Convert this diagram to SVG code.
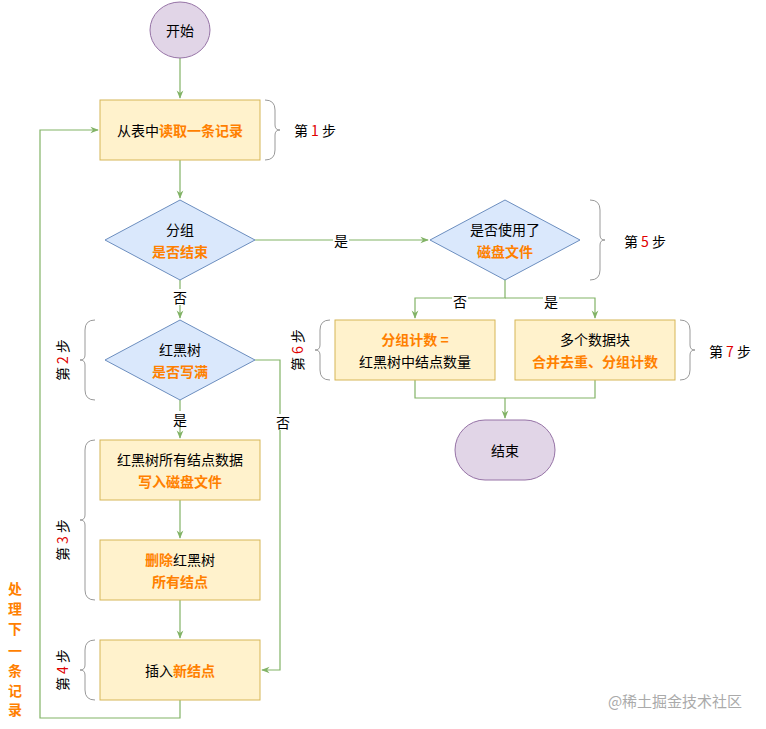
<svg xmlns="http://www.w3.org/2000/svg" width="766" height="729" viewBox="0 0 766 729">
<defs>
<marker id="a" viewBox="0 0 10 10" refX="9" refY="5" markerWidth="7" markerHeight="7" orient="auto"><path d="M0,1 L10,5 L0,9 L3,5 Z" fill="#82b366"/></marker>
<style>
text{font-family:"Noto Sans CJK SC","Noto Sans",sans-serif;font-size:14px;fill:#000;text-anchor:middle;dominant-baseline:central}
.o{fill:#ff8000;font-weight:bold}
.r{fill:#e00000}
.box{fill:#fff2cc;stroke:#d6b656}
.dia{fill:#dae8fc;stroke:#6c8ebf}
.term{fill:#e1d5e7;stroke:#9673a6}
.c{fill:none;stroke:#82b366;stroke-width:1.2}
.br{fill:none;stroke:#999;stroke-width:1}
</style>
</defs>
<rect width="766" height="729" fill="#fff"/>
<g id="connectors">
<path class="c" d="M180,58 V98" marker-end="url(#a)"/>
<path class="c" d="M180,160 V198" marker-end="url(#a)"/>
<path class="c" d="M255,240 H428" marker-end="url(#a)"/>
<path class="c" d="M180,280 V318" marker-end="url(#a)"/>
<path class="c" d="M505,280 V298 H415 V318" marker-end="url(#a)"/>
<path class="c" d="M505,298 H595 V318" marker-end="url(#a)"/>
<path class="c" d="M415,380 V398 H595 V380"/>
<path class="c" d="M505,398 V418" marker-end="url(#a)"/>
<path class="c" d="M180,400 V438" marker-end="url(#a)"/>
<path class="c" d="M255,360 H280 V670 H262" marker-end="url(#a)"/>
<path class="c" d="M180,500 V538" marker-end="url(#a)"/>
<path class="c" d="M180,600 V638" marker-end="url(#a)"/>
<path class="c" d="M180,700 V718 H40 V130 H98" marker-end="url(#a)"/>
<rect x="333" y="232" width="16" height="16" fill="#fff"/><text x="341" y="240">是</text>
<rect x="172" y="289" width="16" height="16" fill="#fff"/><text x="180" y="297">否</text>
<rect x="452" y="293" width="16" height="16" fill="#fff"/><text x="460" y="301">否</text>
<rect x="543" y="293" width="16" height="16" fill="#fff"/><text x="551" y="301">是</text>
<rect x="172" y="411" width="16" height="16" fill="#fff"/><text x="180" y="419">是</text>
<rect x="275" y="414" width="16" height="16" fill="#fff"/><text x="283" y="422">否</text>
</g>
<g id="start"><ellipse class="term" cx="180" cy="30" rx="30" ry="28"/><text x="180" y="30">开始</text></g>
<g id="step1"><rect class="box" x="100" y="100" width="160" height="60"/><text x="180" y="130"><tspan>从表中</tspan><tspan class="o">读取一条记录</tspan></text></g>
<g id="d1"><path class="dia" d="M180,200 L255,240 L180,280 L105,240 Z"/><text x="180" y="229">分组</text><text class="o" x="180" y="251">是否结束</text></g>
<g id="d2"><path class="dia" d="M505,200 L580,240 L505,280 L430,240 Z"/><text x="505" y="229">是否使用了</text><text class="o" x="505" y="251">磁盘文件</text></g>
<g id="d3"><path class="dia" d="M180,320 L255,360 L180,400 L105,360 Z"/><text x="180" y="349">红黑树</text><text class="o" x="180" y="371">是否写满</text></g>
<g id="step6"><rect class="box" x="335" y="320" width="160" height="60"/><text class="o" x="415" y="339">分组计数 =</text><text x="415" y="361">红黑树中结点数量</text></g>
<g id="step7"><rect class="box" x="515" y="320" width="160" height="60"/><text x="595" y="339">多个数据块</text><text class="o" x="595" y="361">合并去重、分组计数</text></g>
<g id="end"><rect class="term" x="455" y="420" width="100" height="60" rx="30"/><text x="505" y="450">结束</text></g>
<g id="step3a"><rect class="box" x="100" y="440" width="160" height="60"/><text x="180" y="459">红黑树所有结点数据</text><text class="o" x="180" y="481">写入磁盘文件</text></g>
<g id="step3b"><rect class="box" x="100" y="540" width="160" height="60"/><text x="180" y="559"><tspan class="o">删除</tspan><tspan>红黑树</tspan></text><text class="o" x="180" y="581">所有结点</text></g>
<g id="step4"><rect class="box" x="100" y="640" width="160" height="60"/><text x="180" y="670"><tspan>插入</tspan><tspan class="o">新结点</tspan></text></g>
<g id="braces">
<path class="br" d="M265,100 Q275,100 275,110 V125 Q275,130 280,130 Q275,130 275,135 V150 Q275,160 265,160"/>
<text x="315" y="130">第 <tspan class="r">1</tspan> 步</text>
<path class="br" d="M590,200 Q600,200 600,210 V235 Q600,240 605,240 Q600,240 600,245 V270 Q600,280 590,280"/>
<text x="645" y="241">第 <tspan class="r">5</tspan> 步</text>
<path class="br" d="M680,320 Q690,320 690,330 V345 Q690,350 695,350 Q690,350 690,355 V370 Q690,380 680,380"/>
<text x="730" y="351">第 <tspan class="r">7</tspan> 步</text>
<path class="br" d="M330,320 Q320,320 320,330 V345 Q320,350 315,350 Q320,350 320,355 V370 Q320,380 330,380"/>
<text transform="translate(297,350) rotate(-90)">第 <tspan class="r">6</tspan> 步</text>
<path class="br" d="M95,320 Q85,320 85,330 V355 Q85,360 80,360 Q85,360 85,365 V390 Q85,400 95,400"/>
<text transform="translate(62,360) rotate(-90)">第 <tspan class="r">2</tspan> 步</text>
<path class="br" d="M95,440 Q85,440 85,450 V515 Q85,520 80,520 Q85,520 85,525 V590 Q85,600 95,600"/>
<text transform="translate(62,540) rotate(-90)">第 <tspan class="r">3</tspan> 步</text>
<path class="br" d="M95,640 Q85,640 85,650 V665 Q85,670 80,670 Q85,670 85,675 V690 Q85,700 95,700"/>
<text transform="translate(62,670) rotate(-90)">第 <tspan class="r">4</tspan> 步</text>
</g>
<g id="loop-label">
<text class="o" x="15" y="588">处</text><text class="o" x="15" y="608">理</text><text class="o" x="15" y="628">下</text><text class="o" x="15" y="650">一</text><text class="o" x="15" y="670">条</text><text class="o" x="15" y="690">记</text><text class="o" x="15" y="709">录</text>
</g>
<text x="675" y="700" style="fill:#aaa;font-size:15px">@稀土掘金技术社区</text>
</svg>
